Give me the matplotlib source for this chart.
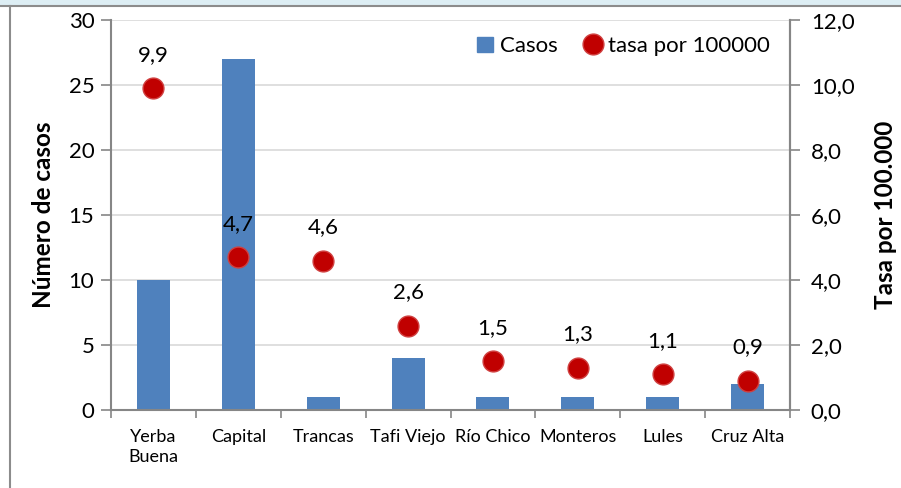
import matplotlib
matplotlib.use("Agg")
import matplotlib.pyplot as plt
from matplotlib.lines import Line2D
from matplotlib.patches import Rectangle
import numpy as np

categories = ["Yerba\nBuena", "Capital", "Trancas", "Tafi Viejo", "Río Chico", "Monteros", "Lules", "Cruz Alta"]
casos = [10, 27, 1, 4, 1, 1, 1, 2]
tasa = [9.9, 4.7, 4.6, 2.6, 1.5, 1.3, 1.1, 0.9]
left_ticks = [0, 5, 10, 15, 20, 25, 30]
right_ticks = [0, 2, 4, 6, 8, 10, 12]

plt.rcParams['font.family'] = ['Lato', 'DejaVu Sans']

fig = plt.figure(figsize=(9.01, 4.88), dpi=100)
fig.patch.set_facecolor('white')
# top band and frame lines
fig.add_artist(Rectangle((0, 1 - 5/488), 1, 5/488, transform=fig.transFigure, facecolor='#DDEEF4', edgecolor='none'))
fig.add_artist(Line2D([0, 1], [1 - 5.5/488, 1 - 5.5/488], transform=fig.transFigure, color='#8C8C8C', lw=1.5))
fig.add_artist(Line2D([9.5/901, 9.5/901], [0, 1 - 5.5/488], transform=fig.transFigure, color='#8C8C8C', lw=1.5))

ax = fig.add_axes([111/901, 1 - 410/488, 679/901, 390/488])
x = np.arange(len(categories))
ax.bar(x, casos, width=0.39, color='#4F81BD', zorder=2, label='Casos')
ax.set_xlim(-0.5, len(categories) - 0.5)
ax.set_ylim(0, 30)
ax.set_yticks(left_ticks)
ax.set_yticklabels([str(t) for t in left_ticks], fontsize=16)
ax.yaxis.grid(True, color='#D9D9D9', lw=1.2, zorder=0)
ax.set_axisbelow(True)
ax.set_xticks(x)
ax.set_xticklabels(categories, fontsize=13, linespacing=1.3)
ax.set_xticks(np.arange(len(categories) + 1) - 0.5, minor=True)
ax.tick_params(axis='x', which='major', length=0, pad=14)
ax.tick_params(axis='x', which='minor', length=6, color='#868686', width=1.2)
ax.tick_params(axis='y', length=7, color='#868686', width=1.2, pad=5)
for s in ['left', 'bottom', 'right']:
    ax.spines[s].set_color('#868686')
    ax.spines[s].set_linewidth(1.5)
ax.spines['top'].set_visible(False)
ax.set_ylabel('Número de casos', fontsize=17.5, fontweight='bold', labelpad=10)

ax2 = ax.twinx()
ax2.plot(x, tasa, linestyle='none', marker='o', markersize=15, markerfacecolor='#C00000',
         markeredgecolor='#D04040', markeredgewidth=1.0, zorder=3, label='tasa por 100000')
ax2.set_ylim(0, 12)
ax2.set_yticks(right_ticks)
ax2.set_yticklabels([f"{t:.1f}".replace('.', ',') for t in right_ticks], fontsize=16)
ax2.tick_params(axis='y', length=7, color='#868686', width=1.2, pad=8)
for s in ['left', 'bottom', 'top']:
    ax2.spines[s].set_visible(False)
ax2.spines['right'].set_color('#868686')
ax2.spines['right'].set_linewidth(1.5)
ax2.set_ylabel('Tasa por 100.000', fontsize=17.5, fontweight='bold', labelpad=14)
for xi, v in zip(x, tasa):
    ax2.annotate(f"{v:.1f}".replace('.', ','), (xi, v), xytext=(0, 17), textcoords='offset points',
                 ha='center', va='bottom', fontsize=16)

handles = [Rectangle((0, 0), 1, 1, color='#4F81BD'),
           Line2D([], [], linestyle='none', marker='o', markersize=15, markerfacecolor='#C00000',
                  markeredgecolor='#D04040')]
ax2.legend(handles, ['Casos', 'tasa por 100000'], loc='upper right', ncol=2, frameon=False,
           fontsize=16, handlelength=0.7, handletextpad=0.35, columnspacing=1.2,
           bbox_to_anchor=(1.0, 1.01))

fig.savefig('out.png', dpi=100)
